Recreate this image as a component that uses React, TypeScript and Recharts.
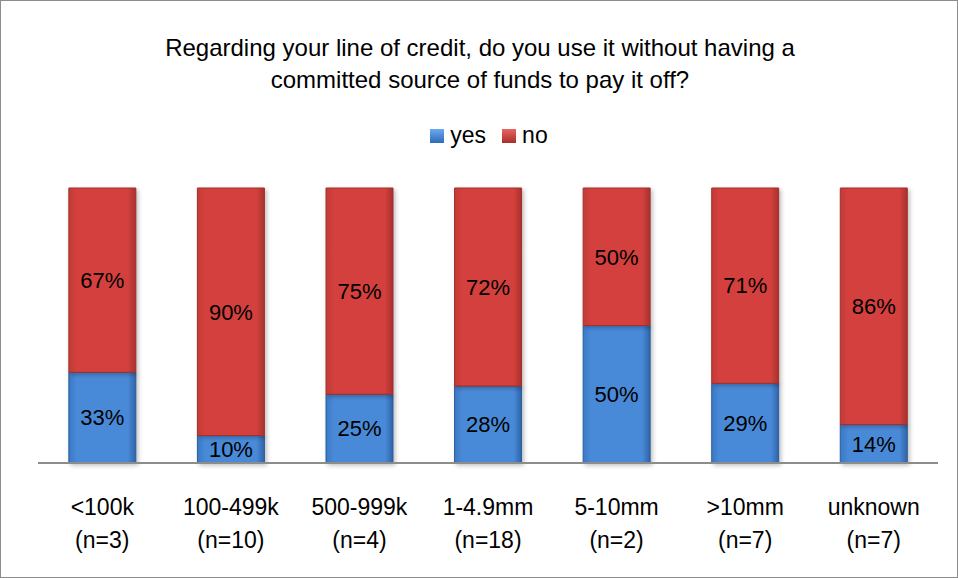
import React from "react";
import { BarChart, Bar, XAxis, YAxis, Legend, LabelList } from "recharts";

const categories = ["<100k", "100-499k", "500-999k", "1-4.9mm", "5-10mm", ">10mm", "unknown"];
const sampleSizes = ["(n=3)", "(n=10)", "(n=4)", "(n=18)", "(n=2)", "(n=7)", "(n=7)"];
const yesValues = [33, 10, 25, 28, 50, 29, 14];
const noValues = [67, 90, 75, 72, 50, 71, 86];

const data = categories.map((c, i) => ({
  category: c,
  n: sampleSizes[i],
  yes: yesValues[i],
  no: noValues[i],
}));

const FONT = "'Liberation Sans', Arial, sans-serif";

function CategoryTick({ x = 0, y = 0, payload, index = 0 }: any) {
  return (
    <text x={x} y={y} textAnchor="middle" fill="#000" fontSize={23} fontFamily={FONT}>
      <tspan x={x} dy={44}>{payload.value}</tspan>
      <tspan x={x} dy={33}>{sampleSizes[index]}</tspan>
    </text>
  );
}

function LegendContent() {
  const items = [
    { label: "yes", color: "url(#legYes)" },
    { label: "no", color: "url(#legNo)" },
  ];
  return (
    <div style={{ display: "flex", justifyContent: "center", gap: 16, fontFamily: FONT, fontSize: 23 }}>
      {items.map((it) => (
        <div key={it.label} style={{ display: "flex", alignItems: "center", gap: 6 }}>
          <svg width={14} height={14}>
            <defs>
              <linearGradient id="legYes" x1="0" y1="0" x2="0" y2="1">
                <stop offset="0%" stopColor="#6aaaf0" />
                <stop offset="100%" stopColor="#2e6bb5" />
              </linearGradient>
              <linearGradient id="legNo" x1="0" y1="0" x2="0" y2="1">
                <stop offset="0%" stopColor="#e86561" />
                <stop offset="100%" stopColor="#a82e2b" />
              </linearGradient>
            </defs>
            <rect width={14} height={14} fill={it.color} />
          </svg>
          <span>{it.label}</span>
        </div>
      ))}
    </div>
  );
}

const pct = (v: any) => `${v}%`;

export default function App() {
  return (
    <div
      style={{
        position: "absolute",
        left: 0,
        top: 0,
        width: 958,
        height: 578,
        background: "#fff",
        border: "1px solid #8c8c8c",
        boxSizing: "border-box",
        fontFamily: FONT,
      }}
    >
      <div
        style={{
          position: "absolute",
          top: 31,
          left: 0,
          width: 958,
          textAlign: "center",
          fontSize: 24,
          lineHeight: "32px",
          color: "#000",
        }}
      >
        Regarding your line of credit, do you use it without having a
        <br />
        committed source of funds to pay it off?
      </div>
      <div style={{ position: "absolute", left: -1, top: -1 }}>
        <BarChart
          width={958}
          height={578}
          data={data}
          margin={{ top: 188, right: 20, left: 38, bottom: 85 }}
          barCategoryGap="24%"
        >
          <defs>
            <linearGradient id="gradYes" x1="0" y1="0" x2="1" y2="0">
              <stop offset="0%" stopColor="#3a78c4" />
              <stop offset="12%" stopColor="#4a8ad8" />
              <stop offset="88%" stopColor="#4a8ad8" />
              <stop offset="100%" stopColor="#2f64a8" />
            </linearGradient>
            <linearGradient id="gradNo" x1="0" y1="0" x2="1" y2="0">
              <stop offset="0%" stopColor="#c23a36" />
              <stop offset="12%" stopColor="#d3413d" />
              <stop offset="88%" stopColor="#d3413d" />
              <stop offset="100%" stopColor="#a8302d" />
            </linearGradient>
            <filter id="shadow" x="-10%" y="-10%" width="130%" height="130%">
              <feDropShadow dx={2} dy={2} stdDeviation={2} floodColor="#000" floodOpacity={0.25} />
            </filter>
          </defs>
          <XAxis
            dataKey="category"
            tick={<CategoryTick />}
            tickLine={false}
            axisLine={{ stroke: "#8c8c8c", strokeWidth: 2 }}
            interval={0}
          />
          <YAxis hide domain={[0, 100]} />
          <Legend
            layout="horizontal"
            verticalAlign="middle"
            align="center"
            content={<LegendContent />}
            wrapperStyle={{ top: 122, left: 10, width: 958, bottom: "auto" }}
          />
          <Bar
            dataKey="yes"
            stackId="a"
            fill="url(#gradYes)"
            stroke="#2a5d9c"
            strokeWidth={1}
            filter="url(#shadow)"
            isAnimationActive={false}
          >
            <LabelList dataKey="yes" position="center" formatter={pct} fill="#000" fontSize={22} fontFamily={FONT} />
          </Bar>
          <Bar
            dataKey="no"
            stackId="a"
            fill="url(#gradNo)"
            stroke="#a32f2c"
            strokeWidth={1}
            filter="url(#shadow)"
            isAnimationActive={false}
          >
            <LabelList dataKey="no" position="center" formatter={pct} fill="#000" fontSize={22} fontFamily={FONT} />
          </Bar>
        </BarChart>
      </div>
    </div>
  );
}
